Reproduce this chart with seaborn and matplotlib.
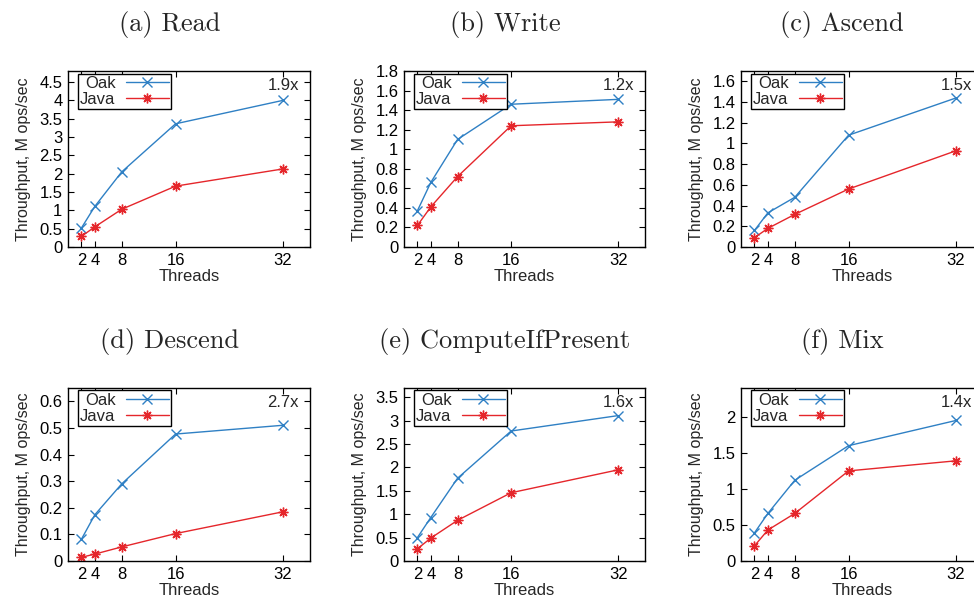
import numpy as np
import pandas as pd
import matplotlib
matplotlib.use('Agg')
import matplotlib.pyplot as plt
import seaborn as sns
from matplotlib.ticker import FuncFormatter

# dados (M ops/sec)
threads = [2, 4, 8, 16, 32]

oak_read = [0.52, 1.11, 2.05, 3.36, 4.00]
java_read = [0.29, 0.55, 1.03, 1.66, 2.13]

oak_write = [0.37, 0.66, 1.10, 1.46, 1.51]
java_write = [0.22, 0.41, 0.72, 1.24, 1.28]

oak_ascend = [0.16, 0.33, 0.48, 1.08, 1.44]
java_ascend = [0.09, 0.18, 0.315, 0.56, 0.93]

oak_descend = [0.082, 0.174, 0.29, 0.477, 0.51]
java_descend = [0.014, 0.026, 0.053, 0.103, 0.185]

oak_cip = [0.50, 0.93, 1.77, 2.78, 3.11]
java_cip = [0.26, 0.49, 0.87, 1.46, 1.95]

oak_mix = [0.39, 0.66, 1.12, 1.60, 1.95]
java_mix = [0.21, 0.43, 0.66, 1.25, 1.39]

titles = ['(a) Read', '(b) Write', '(c) Ascend',
          '(d) Descend', '(e) ComputeIfPresent', '(f) Mix']
speedups = ['1.9x', '1.2x', '1.5x', '2.7x', '1.6x', '1.4x']
y_max = [4.8, 1.8, 1.7, 0.65, 3.7, 2.4]
y_step = [0.5, 0.2, 0.2, 0.1, 0.5, 0.5]

series = [(oak_read, java_read), (oak_write, java_write),
          (oak_ascend, java_ascend), (oak_descend, java_descend),
          (oak_cip, java_cip), (oak_mix, java_mix)]

sns.set_style('ticks')
plt.rcParams['font.family'] = ['Liberation Sans', 'DejaVu Sans']

cor_oak = '#2f80c4'
cor_java = '#e5262b'

fig = plt.figure(figsize=(9.74, 6.01), dpi=100)

# posições dos eixos em pixels (esquerda, topo, direita, base)
lefts = [68, 404, 741]
rights = [310, 645, 983]
tops = [71, 388]
bottoms = [247, 561]
title_x = [170, 505, 842]
title_y = [24, 341]

fmt = FuncFormatter(lambda v, p: '{:g}'.format(round(v, 3)))

for i, (oak, java) in enumerate(series):
    r, c = divmod(i, 3)
    l, rr = lefts[c], rights[c]
    t, b = tops[r], bottoms[r]
    ax = fig.add_axes([l / 974, 1 - b / 601, (rr - l) / 974, (b - t) / 601])

    df = pd.DataFrame({
        'Threads': threads * 2,
        'valor': oak + java,
        'serie': ['Oak'] * 5 + ['Java'] * 5,
    })
    sns.lineplot(data=df[df['serie'] == 'Oak'], x='Threads', y='valor', ax=ax,
                 color=cor_oak, marker='x', markersize=6.5, mec=cor_oak, mew=1.0,
                 linewidth=1.0, label='Oak')
    sns.lineplot(data=df[df['serie'] == 'Java'], x='Threads', y='valor', ax=ax,
                 color=cor_java, marker=(8, 2, 0), markersize=7, mec=cor_java,
                 mew=1.0, linewidth=1.0, label='Java')

    ax.set_xlim(0, 36)
    ax.set_ylim(0, y_max[i])
    ax.set_xticks(threads)
    ax.set_yticks(np.arange(0, y_max[i] + 1e-9, y_step[i]))
    ax.yaxis.set_major_formatter(fmt)
    ax.tick_params(direction='in', top=True, right=True, length=4,
                   width=0.8, labelsize=12, pad=4, colors='black')
    for s in ax.spines.values():
        s.set_color('black')
        s.set_linewidth(1.0)
    ax.set_xlabel('Threads', fontsize=12, labelpad=1)
    ax.set_ylabel('Throughput, M ops/sec', fontsize=11.5, labelpad=6)

    ax.text(32, 0.875, speedups[i], transform=ax.get_xaxis_transform(),
            ha='center', va='bottom', fontsize=12)

    leg = ax.legend(loc='upper left', bbox_to_anchor=(0.03, 1.0),
                    markerfirst=False, frameon=True, fancybox=False,
                    edgecolor='black', framealpha=1, fontsize=12,
                    handlelength=2.6, handletextpad=0.6, borderpad=0.15,
                    labelspacing=0.05, borderaxespad=0.15)
    leg.get_frame().set_linewidth(1.0)

    fig.text(title_x[c] / 974, 1 - title_y[r] / 601, titles[i],
             ha='center', va='center', fontsize=19, family='cmr10')

plt.savefig('out.png', dpi=100)
